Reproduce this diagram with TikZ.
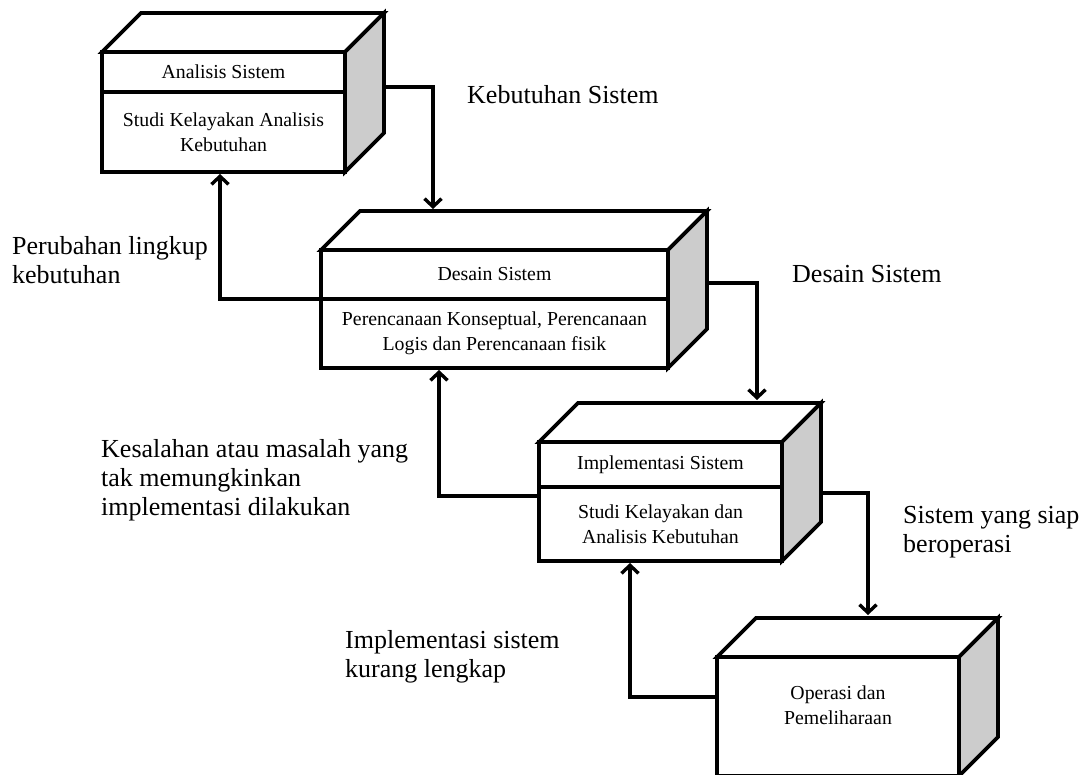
\documentclass[tikz,border=0pt]{standalone}
\usepackage{fontspec}
\setmainfont{Liberation Serif}
\usetikzlibrary{arrows.meta,calc}
\newcommand\boxfont{\fontsize{19.8}{25}\selectfont}
\newcommand\lblfont{\fontsize{26}{29}\selectfont}
\newcommand\drawcube[3]{%
  \draw[topface] (#1) -- ++(39,-39) -- ($(#2)+(39,-39)$) -- (#2) -- cycle;
  \draw[sideface] (#2) -- ++(39,-39) -- ($(#3)+(39,-39)$) -- (#3) -- cycle;}
\begin{document}
\begin{tikzpicture}[x=1pt,y=-1pt,
  facebox/.style={draw,line width=3.6pt,fill=white,inner sep=0pt,outer sep=0pt,align=center,font=\boxfont},
  topface/.style={draw,line width=3.6pt,fill=white},
  sideface/.style={draw,line width=3.6pt,fill=gray!40},
  conn/.style={line width=3.4pt,-{Straight Barb[length=8pt,width=17pt]}},
  lbl/.style={inner sep=0pt,anchor=base west,align=left,font=\lblfont}]
\useasboundingbox (0,0) rectangle (1086,774);
\fill[white] (0,0) rectangle (1086,774);
\clip (0,0) rectangle (1086,774);

% Box 1
\node[facebox,minimum width=243pt,minimum height=40pt,anchor=north west] (a1) at (102,52) {Analisis Sistem};
\node[facebox,minimum width=243pt,minimum height=80pt,anchor=north] (a2) at (a1.south) {Studi Kelayakan Analisis\\Kebutuhan};
\drawcube{a1.north west}{a1.north east}{a2.south east}

% Box 2
\node[facebox,minimum width=347pt,minimum height=49pt,anchor=north west] (b1) at (321,250) {Desain Sistem};
\node[facebox,minimum width=347pt,minimum height=69pt,anchor=north] (b2) at (b1.south) {Perencanaan Konseptual, Perencanaan\\Logis dan Perencanaan fisik};
\drawcube{b1.north west}{b1.north east}{b2.south east}

% Box 3
\node[facebox,minimum width=243pt,minimum height=45pt,anchor=north west] (c1) at (539,442) {Implementasi Sistem};
\node[facebox,minimum width=243pt,minimum height=74pt,anchor=north] (c2) at (c1.south) {Studi Kelayakan dan\\Analisis Kebutuhan};
\drawcube{c1.north west}{c1.north east}{c2.south east}

% Box 4
\node[facebox,minimum width=242pt,minimum height=119pt,anchor=north west] (d1) at (717,657) {};
\node[font=\boxfont,align=center,inner sep=0pt] (dtxt) at (838,705) {Operasi dan\\Pemeliharaan};
\drawcube{d1.north west}{d1.north east}{d1.south east}

% connector end points
\coordinate (a-out) at (383,87);
\coordinate (b-in) at (433,209);
\coordinate (a-in) at (220,174);
\coordinate (b-out) at (708,283);
\coordinate (c-in) at (757,400);
\coordinate (b-back) at (439,370);
\coordinate (c-left) at (539,496);
\coordinate (c-out) at (822,493);
\coordinate (d-in) at (868,615);
\coordinate (d-left) at (717,697);
\coordinate (c-back) at (630,563);

\draw[conn] (a-out) -| (b-in);
\draw[conn] (b1.south west) -| (a-in);
\draw[conn] (b-out) -| (c-in);
\draw[conn] (c-left) -| (b-back);
\draw[conn] (c-out) -| (d-in);
\draw[conn] (d-left) -| (c-back);

% labels (base = baseline of last line)
\node[lbl] (l1) at (467,103) {Kebutuhan Sistem};
\node[lbl] (l2) at (12,283) {Perubahan lingkup\\kebutuhan};
\node[lbl] (l3) at (792,282) {Desain Sistem};
\node[lbl] (l4) at (101,515) {Kesalahan atau masalah yang\\tak memungkinkan\\implementasi dilakukan};
\node[lbl] (l5) at (903,552) {Sistem yang siap\\beroperasi};
\node[lbl] (l6) at (345,677) {Implementasi sistem\\kurang lengkap};
\end{tikzpicture}
\end{document}
